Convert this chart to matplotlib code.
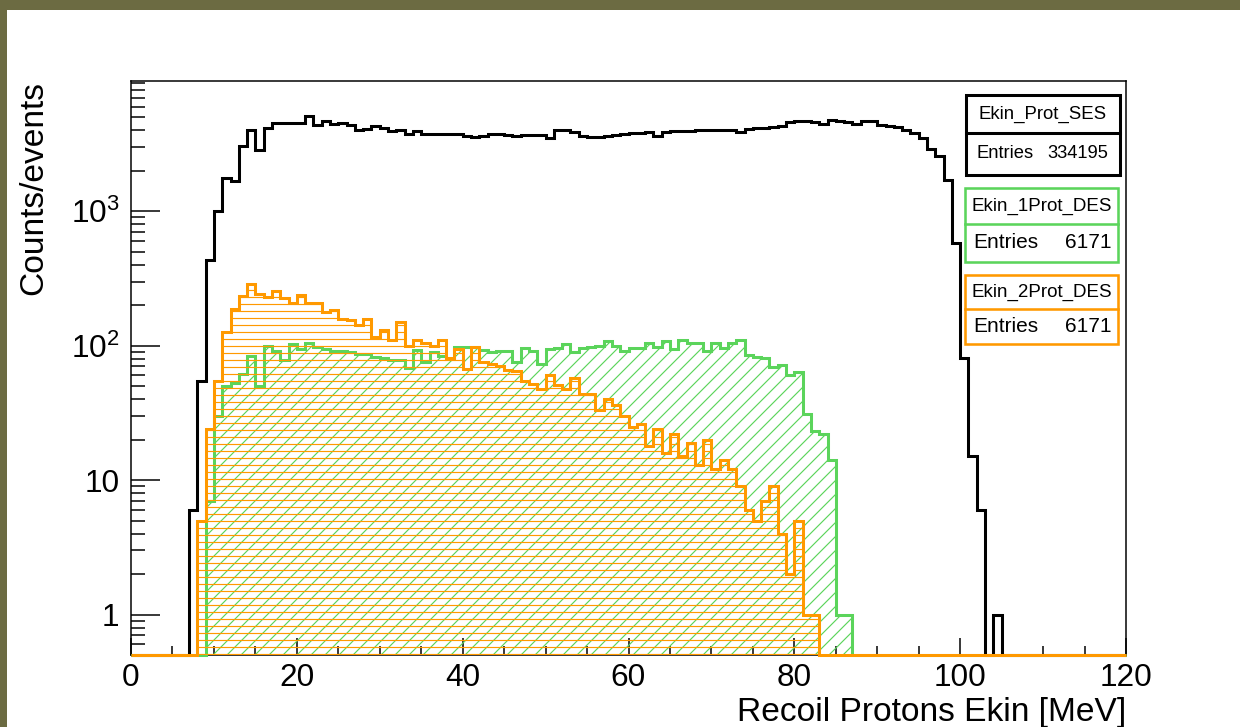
import numpy as np
import matplotlib
matplotlib.use("Agg")
import matplotlib.pyplot as plt
from matplotlib.patches import Rectangle
from matplotlib.ticker import MultipleLocator, LogLocator, NullFormatter

# canvas: 1240x727 px, drawn at 84 dpi so that '--' / '//' hatches get ROOT-like spacing
DPI = 84
W, H = 1240, 727
BLACK, GREEN, ORANGE, OLIVE = "#000000", "#5bd45b", "#ff9900", "#6c6b42"
YMIN, YMAX = 0.5, 9300

# 1 MeV bins from 0 to 120
edges = np.arange(0, 121, 1)

ekin_prot_ses = [
    0, 0, 0, 0, 0, 0, 0, 6, 55, 430,
    1010, 1770, 1680, 3080, 4050, 2860, 4170, 4540, 4500, 4520,
    4560, 5100, 4350, 4650, 4450, 4540, 4400, 4050, 4100, 4280,
    4170, 3920, 3990, 3720, 3920, 3770, 3770, 3750, 3750, 3720,
    3620, 3560, 3620, 3720, 3720, 3670, 3620, 3670, 3700, 3700,
    3500, 3990, 4050, 3870, 3650, 3570, 3570, 3650, 3700, 3750,
    3830, 3830, 3850, 3650, 3850, 3920, 3920, 3920, 3990, 3990,
    4010, 4030, 4050, 3870, 4100, 4180, 4180, 4220, 4290, 4580,
    4650, 4650, 4600, 4450, 4750, 4700, 4580, 4450, 4650, 4700,
    4360, 4290, 4250, 4000, 3800, 3530, 2920, 2560, 1710, 577,
    81, 15, 6, 0, 1, 0, 0, 0, 0, 0,
    0, 0, 0, 0, 0, 0, 0, 0, 0, 0,
]

ekin_1prot_des = [
    0, 0, 0, 0, 0, 0, 0, 0, 0, 7,
    30, 50, 53, 62, 84, 50, 99, 91, 78, 102,
    94, 104, 98, 95, 91, 91, 90, 87, 87, 82,
    81, 78, 78, 68, 93, 76, 90, 84, 80, 98,
    97, 97, 93, 90, 91, 91, 76, 96, 91, 73,
    94, 96, 102, 89, 96, 98, 99, 108, 99, 92,
    96, 96, 105, 98, 108, 94, 111, 104, 104, 92,
    104, 96, 104, 111, 85, 82, 81, 69, 72, 60,
    64, 31, 23, 22, 14, 1, 1, 0, 0, 0,
    0, 0, 0, 0, 0, 0, 0, 0, 0, 0,
    0, 0, 0, 0, 0, 0, 0, 0, 0, 0,
    0, 0, 0, 0, 0, 0, 0, 0, 0, 0,
]

ekin_2prot_des = [
    0, 0, 0, 0, 0, 0, 0, 0, 5, 24,
    55, 126, 187, 235, 285, 244, 231, 254, 227, 206,
    238, 206, 206, 178, 184, 159, 155, 142, 157, 116,
    130, 110, 150, 100, 111, 104, 100, 111, 81, 95,
    67, 97, 75, 73, 71, 66, 65, 55, 52, 48,
    60, 51, 48, 57, 44, 44, 33, 40, 36, 30,
    25, 26, 18, 24, 16, 22, 15, 19, 13, 20,
    12, 14, 12, 9, 6, 5, 7, 9, 4, 2,
    5, 1, 1, 0, 0, 0, 0, 0, 0, 0,
    0, 0, 0, 0, 0, 0, 0, 0, 0, 0,
    0, 0, 0, 0, 0, 0, 0, 0, 0, 0,
    0, 0, 0, 0, 0, 0, 0, 0, 0, 0,
]

box_names = ["Ekin_Prot_SES", "Ekin_1Prot_DES", "Ekin_2Prot_DES"]
box_entries = ["334195", "6171", "6171"]

YTICKS = [1, 10, 100, 1000]
YTICK_LABELS = ["1", "10", "$10^{2}$", "$10^{3}$"]

plt.rcParams.update({
    "font.family": ["Liberation Sans", "DejaVu Sans"],
    "mathtext.fontset": "custom",
    "mathtext.rm": "Liberation Sans",
    "mathtext.it": "Liberation Sans:italic",
    "hatch.linewidth": 1.0,
})


def px(x, y):
    # pixel (top-left origin) -> figure fraction
    return x / W, 1 - y / H


fig = plt.figure(figsize=(W / DPI, H / DPI), dpi=DPI, facecolor=OLIVE)
fig.add_artist(Rectangle(px(7, H), 1, 1 - 10 / H, transform=fig.transFigure,
                         facecolor="white", edgecolor="none", zorder=-10))

l, b = px(131, 655)
r, t = px(1126, 81)
ax = fig.add_axes([l, b, r - l, t - b])
ax.set_yscale("log")
ax.set_xlim(0, 120)
ax.set_ylim(YMIN, YMAX)


def draw_hist(vals, color, hatch=None, z=2):
    v = np.maximum(np.asarray(vals, float), YMIN)
    if hatch:
        ax.stairs(v, edges, baseline=YMIN, fill=True, facecolor="none",
                  edgecolor=color, hatch=hatch, linewidth=0, zorder=z)
    ax.stairs(v, edges, baseline=None, color=color, linewidth=2.6,
              zorder=z + 0.5, clip_on=False)


draw_hist(ekin_prot_ses, BLACK, z=2)
draw_hist(ekin_1prot_des, GREEN, hatch="//", z=3)
draw_hist(ekin_2prot_des, ORANGE, hatch="--", z=4)

ax.xaxis.set_major_locator(MultipleLocator(20))
ax.xaxis.set_minor_locator(MultipleLocator(5))
ax.set_yticks(YTICKS, labels=YTICK_LABELS)
ax.yaxis.set_minor_locator(LogLocator(base=10, subs=np.arange(2, 10), numticks=30))
ax.yaxis.set_minor_formatter(NullFormatter())
ax.tick_params(axis="x", which="major", direction="in", length=14.6, width=1.3,
               top=False, labelsize=27, pad=7)
ax.tick_params(axis="x", which="minor", direction="in", length=7.3, width=1.3, top=False)
ax.tick_params(axis="y", which="major", direction="in", length=24.9, width=1.3,
               right=False, labelsize=27, pad=10)
ax.tick_params(axis="y", which="minor", direction="in", length=12, width=1.3, right=False)
for s in ax.spines.values():
    s.set_linewidth(1.3)

fig.text(*px(1126, 721), "Recoil Protons Ekin [MeV]", ha="right", va="baseline",
         fontsize=28.7)
fig.text(*px(34, 81), "Counts/events", rotation=90, ha="center", va="top",
         fontsize=28.7)

# ROOT stat boxes, drawn on an overlay in pixel coordinates
ov = fig.add_axes([0, 0, 1, 1], zorder=5)
ov.set_xlim(0, W)
ov.set_ylim(H, 0)
ov.axis("off")
ov.patch.set_alpha(0)

boxes = [  # x0, x1, top, divider, bottom, colour, lw, title size, entries size, pad_l, pad_r
    (966, 1120, 95, 133, 175, BLACK, 2.6, 16, 15.8, 10, 12),
    (965, 1118, 188, 224, 262, GREEN, 2.2, 16.1, 17.9, 8, 7),
    (965, 1118, 275, 309, 344, ORANGE, 2.2, 16.1, 17.9, 8, 7),
]
for (x0, x1, top, div, bot, col, lw, fs_t, fs_e, pl, pr), name, n in zip(
        boxes, box_names, box_entries):
    ov.add_patch(Rectangle((x0, top), x1 - x0, bot - top, facecolor="white",
                           edgecolor=col, linewidth=lw))
    ov.plot([x0, x1], [div, div], color=col, linewidth=lw)
    ov.text((x0 + x1) / 2, (top + div) / 2, name, ha="center", va="center", fontsize=fs_t)
    ov.text(x0 + pl, (div + bot) / 2, "Entries", ha="left", va="center", fontsize=fs_e)
    ov.text(x1 - pr, (div + bot) / 2, n, ha="right", va="center", fontsize=fs_e)

fig.savefig("out.png", dpi=DPI, facecolor=OLIVE)
